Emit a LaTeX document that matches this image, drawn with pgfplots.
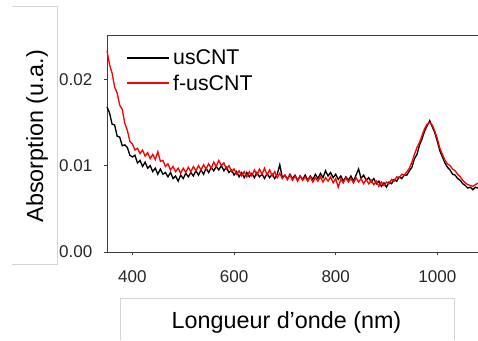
\documentclass[border=0pt]{standalone}
\usepackage{pgfplots}
\pgfplotsset{compat=1.18}
\usepackage{fontspec}
\setmainfont{Liberation Sans}
\definecolor{boxgray}{RGB}{212,212,212}
\definecolor{axgray}{RGB}{60,60,60}
\begin{document}
\begin{tikzpicture}[x=0.75pt,y=0.75pt]
\useasboundingbox (0,0) rectangle (478,340);
% decorative text-box frames of the source
\draw[boxgray, line width=0.75pt] (12,333) -- (57,333) -- (57,76) -- (12,76);
\draw[boxgray, line width=0.75pt] (120,0) -- (120,42) -- (454,42) -- (454,0);
\begin{axis}[
  at={(80.25pt,66pt)}, anchor=south west,
  scale only axis, width=278.25pt, height=162pt,
  xmin=350, xmax=1080, ymin=0, ymax=0.025,
  axis lines=left, axis line style={-, axgray, line width=0.75pt},
  tick align=outside, major tick length=2.5pt,
  tick style={axgray, line width=0.6pt},
  xtick={400,600,800,1000}, ytick={0,0.01,0.02},
  scaled y ticks=false,
  xticklabel style={/pgf/number format/set thousands separator={}, yshift=-8pt},
  yticklabel style={/pgf/number format/fixed, /pgf/number format/fixed zerofill, /pgf/number format/precision=2, xshift=-5pt},
  /pgf/number format/assume math mode=true,
  ticklabel style={font=\fontsize{12.75}{15}\selectfont, text=black!85},
  clip=false,
  legend style={draw=none, fill=none, at={(axis description cs:0.041,0.962)}, anchor=north west,
    font=\fontsize{16}{18}\selectfont, legend cell align=left,
    row sep=2pt},
  legend image code/.code={\draw[#1, line width=1.5pt] (0pt,0pt) -- (31.5pt,0pt);},
]
\addplot[black, line width=1pt] coordinates {
(350,0.0168)(355,0.0161)(360,0.0148)(365,0.0147)(370,0.0134)(375,0.0133)(380,0.0123)(385,0.0124)(390,0.0121)(395,0.0112)
(400,0.0110)(405,0.0112)(410,0.0103)(415,0.0106)(420,0.0099)(425,0.0104)(430,0.0097)(435,0.0100)(440,0.0093)(445,0.0097)
(450,0.0090)(455,0.0096)(460,0.0090)(465,0.0092)(470,0.0087)(475,0.0092)(480,0.0085)(485,0.0088)(490,0.0082)(495,0.0089)
(500,0.0085)(505,0.0091)(510,0.0087)(515,0.0092)(520,0.0088)(525,0.0094)(530,0.0089)(535,0.0095)(540,0.0090)(545,0.0097)
(550,0.0092)(555,0.0098)(560,0.0094)(565,0.0099)(570,0.0095)(575,0.0100)(580,0.0094)(585,0.0098)(590,0.0092)(595,0.0095)
(600,0.0089)(605,0.0093)(610,0.0087)(615,0.0092)(620,0.0086)(625,0.0092)(630,0.0087)(635,0.0091)(640,0.0086)(645,0.0092)
(650,0.0087)(655,0.0090)(660,0.0085)(665,0.0091)(670,0.0086)(675,0.0090)(680,0.0085)(685,0.0090)(690,0.0101)(695,0.0086)
(700,0.0089)(705,0.0084)(710,0.0090)(715,0.0085)(720,0.0089)(725,0.0083)(730,0.0088)(735,0.0084)(740,0.0089)(745,0.0083)
(750,0.0088)(755,0.0084)(760,0.0090)(765,0.0085)(770,0.0091)(775,0.0086)(780,0.0094)(785,0.0088)(790,0.0092)(795,0.0086)
(800,0.0090)(805,0.0084)(810,0.0088)(815,0.0082)(820,0.0087)(825,0.0083)(830,0.0088)(835,0.0082)(840,0.0089)(845,0.0096)
(850,0.0085)(855,0.0089)(860,0.0083)(865,0.0086)(870,0.0081)(875,0.0085)(880,0.0079)(885,0.0082)(890,0.0076)(895,0.0080)
(900,0.0075)(905,0.0081)(910,0.0079)(915,0.0084)(920,0.0082)(925,0.0087)(930,0.0085)(935,0.0089)(940,0.0089)(945,0.0094)
(950,0.0098)(955,0.0108)(960,0.0113)(965,0.0124)(970,0.0131)(975,0.0140)(980,0.0146)(985,0.0152)(990,0.0145)(995,0.0138)
(1000,0.0128)(1005,0.0117)(1010,0.0110)(1015,0.0103)(1020,0.0098)(1025,0.0095)(1030,0.0090)(1035,0.0089)(1040,0.0085)(1045,0.0083)
(1050,0.0079)(1055,0.0077)(1060,0.0074)(1065,0.0075)(1070,0.0072)(1075,0.0075)(1080,0.0074)
};
\addlegendentry{usCNT}
\addplot[red, line width=1pt] coordinates {
(350,0.0233)(355,0.0217)(360,0.0207)(365,0.0191)(370,0.0184)(375,0.0170)(380,0.0165)(385,0.0149)(390,0.0141)(395,0.0128)
(400,0.0125)(405,0.0118)(410,0.0120)(415,0.0114)(420,0.0118)(425,0.0111)(430,0.0115)(435,0.0108)(440,0.0113)(445,0.0107)
(450,0.0116)(455,0.0105)(460,0.0106)(465,0.0099)(470,0.0102)(475,0.0095)(480,0.0099)(485,0.0093)(490,0.0097)(495,0.0091)
(500,0.0097)(505,0.0092)(510,0.0098)(515,0.0093)(520,0.0099)(525,0.0094)(530,0.0100)(535,0.0095)(540,0.0101)(545,0.0096)
(550,0.0102)(555,0.0097)(560,0.0104)(565,0.0099)(570,0.0106)(575,0.0100)(580,0.0103)(585,0.0096)(590,0.0100)(595,0.0093)
(600,0.0096)(605,0.0090)(610,0.0094)(615,0.0088)(620,0.0093)(625,0.0087)(630,0.0093)(635,0.0088)(640,0.0095)(645,0.0089)
(650,0.0096)(655,0.0090)(660,0.0097)(665,0.0089)(670,0.0095)(675,0.0088)(680,0.0093)(685,0.0086)(690,0.0091)(695,0.0085)
(700,0.0089)(705,0.0084)(710,0.0089)(715,0.0083)(720,0.0088)(725,0.0082)(730,0.0088)(735,0.0083)(740,0.0087)(745,0.0082)
(750,0.0087)(755,0.0081)(760,0.0086)(765,0.0082)(770,0.0087)(775,0.0081)(780,0.0086)(785,0.0082)(790,0.0087)(795,0.0080)
(800,0.0085)(805,0.0075)(810,0.0084)(815,0.0080)(820,0.0086)(825,0.0081)(830,0.0085)(835,0.0080)(840,0.0086)(845,0.0081)
(850,0.0085)(855,0.0079)(860,0.0084)(865,0.0079)(870,0.0083)(875,0.0078)(880,0.0082)(885,0.0076)(890,0.0081)(895,0.0077)
(900,0.0081)(905,0.0079)(910,0.0084)(915,0.0082)(920,0.0087)(925,0.0086)(930,0.0090)(935,0.0089)(940,0.0093)(945,0.0097)
(950,0.0104)(955,0.0113)(960,0.0121)(965,0.0127)(970,0.0135)(975,0.0143)(980,0.0148)(985,0.0150)(990,0.0147)(995,0.0140)
(1000,0.0131)(1005,0.0120)(1010,0.0113)(1015,0.0106)(1020,0.0102)(1025,0.0100)(1030,0.0096)(1035,0.0094)(1040,0.0090)(1045,0.0087)
(1050,0.0083)(1055,0.0080)(1060,0.0078)(1065,0.0077)(1070,0.0076)(1075,0.0078)(1080,0.0080)
};
\addlegendentry{f-usCNT}
\end{axis}
\draw[axgray, line width=0.75pt] (107,304) -- (478,304);
\node[rotate=90, anchor=base, font=\fontsize{17.5}{20}\selectfont] at (43,204) {Absorption (u.a.)};
\node[anchor=base, font=\fontsize{17.5}{20}\selectfont] at (286.5,12) {Longueur d’onde (nm)};
\end{tikzpicture}
\end{document}
